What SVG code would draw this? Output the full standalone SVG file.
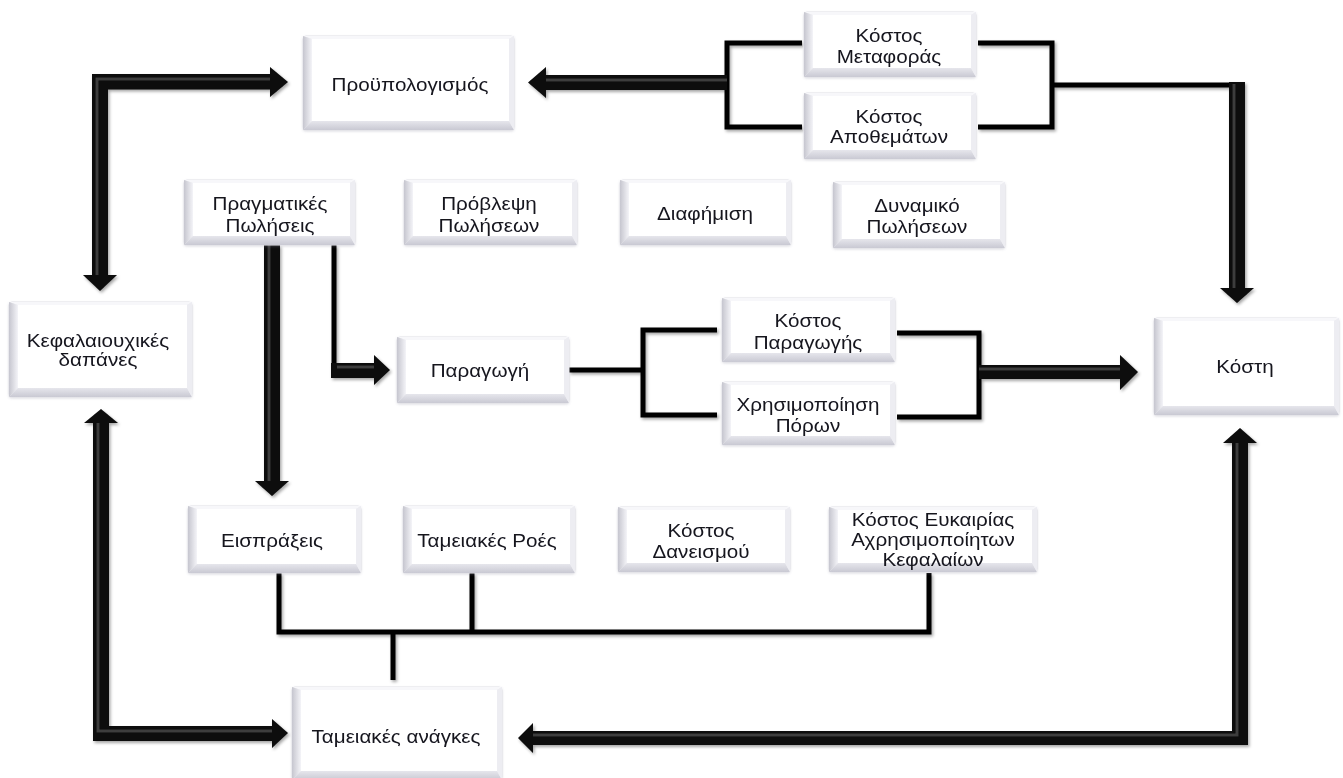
<svg xmlns="http://www.w3.org/2000/svg" width="1343" height="778" viewBox="0 0 1343 778">
<style>
.bo{fill:#ececf1;stroke:#e2e2e8;stroke-width:1}
.bt{fill:#f7f7fa}
.bl{fill:url(#gl)}
.bb{fill:url(#gb)}
.br{fill:#ededf2}
.bi{fill:#ffffff}
.t{font-family:"Liberation Sans",Arial,sans-serif;font-size:17.5px;fill:#15151f;text-anchor:middle;transform-box:fill-box;transform-origin:center;transform:scaleX(1.18)}
.ln{fill:none;stroke:#000;stroke-width:5;stroke-linejoin:miter;stroke-linecap:butt}
.ar{fill:#0a0a0a}
.hl{fill:none;stroke:#3e3e3e;stroke-width:3}
</style>
<defs>
<linearGradient id="gl" x1="0" y1="0" x2="1" y2="0"><stop offset="0" stop-color="#c6c6cf"/><stop offset="1" stop-color="#f4f4f8"/></linearGradient>
<linearGradient id="gb" x1="0" y1="0" x2="0" y2="1"><stop offset="0" stop-color="#e6e6ec"/><stop offset="1" stop-color="#c9c9d3"/></linearGradient>
<filter id="sh" x="-10%" y="-10%" width="120%" height="120%"><feDropShadow dx="1.5" dy="2" stdDeviation="1.5" flood-color="#000" flood-opacity="0.35"/></filter>
<filter id="bs" x="-5%" y="-5%" width="110%" height="115%"><feDropShadow dx="0" dy="1" stdDeviation="1" flood-color="#9090a0" flood-opacity="0.3"/></filter>
</defs>
<rect width="1343" height="778" fill="#ffffff"/>

<g id="connectors" filter="url(#sh)">
  <!-- thin lines / brackets -->
  <path class="ln" d="M802,43 H727 V127 H802"/>
  <path class="ln" d="M978,43 H1052 V127 H978"/>
  <path class="ln" d="M1052,85 H1237"/>
  <path class="ln" d="M334,245 V372"/>
  <path class="ln" d="M569,370 H643"/>
  <path class="ln" d="M717,330 H643 V415 H717"/>
  <path class="ln" d="M897,333 H979 V417 H897"/>
  <path class="ln" d="M279,573 V632 M472,573 V632 M929,573 V632 M276.5,632 H931.5 M393,632 V680"/>
  <!-- thick arrows -->
  <polygon class="ar" points="92,74 270,74 270,67 288,82 270,97 270,89.5 108,89.5 108,275 117,275 100,291 83,275 92,275"/>
  <polyline class="hl" points="97,275 97,79 270,79"/>
  <polygon class="ar" points="101,409 118,423 109,423 109,726 272,726 272,719 288,733 272,748 272,741 93,741 93,423 84,423"/>
  <polyline class="hl" points="98,423 98,731 272,731"/>
  <polygon class="ar" points="727,75 546,75 546,67 528,82.5 546,98 546,90 727,90"/>
  <line class="hl" x1="546" y1="80" x2="727" y2="80"/>
  <polygon class="ar" points="1229,82 1245,82 1245,288 1254,288 1237,303 1220,288 1229,288"/>
  <line class="hl" x1="1234" y1="84" x2="1234" y2="288"/>
  <polygon class="ar" points="264,245 280,245 280,481 289,481 272,496 255,481 264,481"/>
  <line class="hl" x1="269" y1="245" x2="269" y2="481"/>
  <polygon class="ar" points="331,363 374,363 374,355 390,370 374,385 374,378 331,378"/>
  <line class="hl" x1="337" y1="367" x2="374" y2="367"/>
  <polygon class="ar" points="979,365 1120,365 1120,355 1138,372 1120,390 1120,379 979,379"/>
  <line class="hl" x1="979" y1="369" x2="1120" y2="369"/>
  <polygon class="ar" points="1240,428 1257,443 1248,443 1248,745 533,745 533,753 518,738 533,723 533,731 1232,731 1232,443 1223,443"/>
  <polyline class="hl" points="533,735 1237,735 1237,443"/>
</g>

<g id="n1" transform="translate(303,36)" filter="url(#bs)">
  <rect class="bo" width="211" height="94" rx="3"/>
  <polygon class="bt" points="0,0 211,0 206,3 9,3"/>
  <polygon class="bl" points="0,0 9,3 9,85 0,94"/>
  <polygon class="bb" points="0,94 9,85 206,85 211,94"/>
  <polygon class="br" points="211,0 211,94 206,85 206,3"/>
  <rect class="bi" x="9" y="3" width="197" height="82"/>
  <text class="t" x="107" y="55">Προϋπολογισμός</text>
</g>

<g id="n2" transform="translate(804,12)" filter="url(#bs)">
  <rect class="bo" width="172" height="65" rx="3"/>
  <polygon class="bt" points="0,0 172,0 167,3 9,3"/>
  <polygon class="bl" points="0,0 9,3 9,56 0,65"/>
  <polygon class="bb" points="0,65 9,56 167,56 172,65"/>
  <polygon class="br" points="172,0 172,65 167,56 167,3"/>
  <rect class="bi" x="9" y="3" width="158" height="53"/>
  <text class="t" x="85" y="30">Κόστος<tspan x="85" y="51">Μεταφοράς</tspan></text>
</g>

<g id="n3" transform="translate(804,93)" filter="url(#bs)">
  <rect class="bo" width="172" height="66" rx="3"/>
  <polygon class="bt" points="0,0 172,0 167,3 9,3"/>
  <polygon class="bl" points="0,0 9,3 9,57 0,66"/>
  <polygon class="bb" points="0,66 9,57 167,57 172,66"/>
  <polygon class="br" points="172,0 172,66 167,57 167,3"/>
  <rect class="bi" x="9" y="3" width="158" height="54"/>
  <text class="t" x="85" y="30">Κόστος<tspan x="85" y="50">Αποθεμάτων</tspan></text>
</g>

<g id="n4" transform="translate(184,180)" filter="url(#bs)">
  <rect class="bo" width="171" height="65" rx="3"/>
  <polygon class="bt" points="0,0 171,0 166,3 9,3"/>
  <polygon class="bl" points="0,0 9,3 9,56 0,65"/>
  <polygon class="bb" points="0,65 9,56 166,56 171,65"/>
  <polygon class="br" points="171,0 171,65 166,56 166,3"/>
  <rect class="bi" x="9" y="3" width="157" height="53"/>
  <text class="t" x="86" y="30">Πραγματικές<tspan x="86" y="52">Πωλήσεις</tspan></text>
</g>

<g id="n5" transform="translate(404,180)" filter="url(#bs)">
  <rect class="bo" width="173" height="65" rx="3"/>
  <polygon class="bt" points="0,0 173,0 168,3 9,3"/>
  <polygon class="bl" points="0,0 9,3 9,56 0,65"/>
  <polygon class="bb" points="0,65 9,56 168,56 173,65"/>
  <polygon class="br" points="173,0 173,65 168,56 168,3"/>
  <rect class="bi" x="9" y="3" width="159" height="53"/>
  <text class="t" x="85" y="30">Πρόβλεψη<tspan x="85" y="52">Πωλήσεων</tspan></text>
</g>

<g id="n6" transform="translate(620,180)" filter="url(#bs)">
  <rect class="bo" width="171" height="65" rx="3"/>
  <polygon class="bt" points="0,0 171,0 166,3 9,3"/>
  <polygon class="bl" points="0,0 9,3 9,56 0,65"/>
  <polygon class="bb" points="0,65 9,56 166,56 171,65"/>
  <polygon class="br" points="171,0 171,65 166,56 166,3"/>
  <rect class="bi" x="9" y="3" width="157" height="53"/>
  <text class="t" x="85" y="40">Διαφήμιση</text>
</g>

<g id="n7" transform="translate(833,182)" filter="url(#bs)">
  <rect class="bo" width="172" height="66" rx="3"/>
  <polygon class="bt" points="0,0 172,0 167,3 9,3"/>
  <polygon class="bl" points="0,0 9,3 9,57 0,66"/>
  <polygon class="bb" points="0,66 9,57 167,57 172,66"/>
  <polygon class="br" points="172,0 172,66 167,57 167,3"/>
  <rect class="bi" x="9" y="3" width="158" height="54"/>
  <text class="t" x="84" y="30">Δυναμικό<tspan x="84" y="51">Πωλήσεων</tspan></text>
</g>

<g id="n8" transform="translate(9,302)" filter="url(#bs)">
  <rect class="bo" width="183" height="95" rx="3"/>
  <polygon class="bt" points="0,0 183,0 178,3 9,3"/>
  <polygon class="bl" points="0,0 9,3 9,86 0,95"/>
  <polygon class="bb" points="0,95 9,86 178,86 183,95"/>
  <polygon class="br" points="183,0 183,95 178,86 178,3"/>
  <rect class="bi" x="9" y="3" width="169" height="83"/>
  <text class="t" x="89" y="45">Κεφαλαιουχικές<tspan x="89" y="64">δαπάνες</tspan></text>
</g>

<g id="n9" transform="translate(397,337)" filter="url(#bs)">
  <rect class="bo" width="172" height="66" rx="3"/>
  <polygon class="bt" points="0,0 172,0 167,3 9,3"/>
  <polygon class="bl" points="0,0 9,3 9,57 0,66"/>
  <polygon class="bb" points="0,66 9,57 167,57 172,66"/>
  <polygon class="br" points="172,0 172,66 167,57 167,3"/>
  <rect class="bi" x="9" y="3" width="158" height="54"/>
  <text class="t" x="83" y="40">Παραγωγή</text>
</g>

<g id="n10" transform="translate(722,298)" filter="url(#bs)">
  <rect class="bo" width="173" height="64" rx="3"/>
  <polygon class="bt" points="0,0 173,0 168,3 9,3"/>
  <polygon class="bl" points="0,0 9,3 9,55 0,64"/>
  <polygon class="bb" points="0,64 9,55 168,55 173,64"/>
  <polygon class="br" points="173,0 173,64 168,55 168,3"/>
  <rect class="bi" x="9" y="3" width="159" height="52"/>
  <text class="t" x="86" y="29">Κόστος<tspan x="86" y="51">Παραγωγής</tspan></text>
</g>

<g id="n11" transform="translate(722,382)" filter="url(#bs)">
  <rect class="bo" width="173" height="63" rx="3"/>
  <polygon class="bt" points="0,0 173,0 168,3 9,3"/>
  <polygon class="bl" points="0,0 9,3 9,54 0,63"/>
  <polygon class="bb" points="0,63 9,54 168,54 173,63"/>
  <polygon class="br" points="173,0 173,63 168,54 168,3"/>
  <rect class="bi" x="9" y="3" width="159" height="51"/>
  <text class="t" x="86" y="29">Χρησιμοποίηση<tspan x="86" y="50">Πόρων</tspan></text>
</g>

<g id="n12" transform="translate(1154,318)" filter="url(#bs)">
  <rect class="bo" width="185" height="97" rx="3"/>
  <polygon class="bt" points="0,0 185,0 180,3 9,3"/>
  <polygon class="bl" points="0,0 9,3 9,88 0,97"/>
  <polygon class="bb" points="0,97 9,88 180,88 185,97"/>
  <polygon class="br" points="185,0 185,97 180,88 180,3"/>
  <rect class="bi" x="9" y="3" width="171" height="85"/>
  <text class="t" x="91" y="55">Κόστη</text>
</g>

<g id="n13" transform="translate(188,506)" filter="url(#bs)">
  <rect class="bo" width="173" height="67" rx="3"/>
  <polygon class="bt" points="0,0 173,0 168,3 9,3"/>
  <polygon class="bl" points="0,0 9,3 9,58 0,67"/>
  <polygon class="bb" points="0,67 9,58 168,58 173,67"/>
  <polygon class="br" points="173,0 173,67 168,58 168,3"/>
  <rect class="bi" x="9" y="3" width="159" height="55"/>
  <text class="t" x="84" y="41">Εισπράξεις</text>
</g>

<g id="n14" transform="translate(403,506)" filter="url(#bs)">
  <rect class="bo" width="172" height="67" rx="3"/>
  <polygon class="bt" points="0,0 172,0 167,3 9,3"/>
  <polygon class="bl" points="0,0 9,3 9,58 0,67"/>
  <polygon class="bb" points="0,67 9,58 167,58 172,67"/>
  <polygon class="br" points="172,0 172,67 167,58 167,3"/>
  <rect class="bi" x="9" y="3" width="158" height="55"/>
  <text class="t" x="84" y="41">Ταμειακές Ροές</text>
</g>

<g id="n15" transform="translate(618,507)" filter="url(#bs)">
  <rect class="bo" width="172" height="65" rx="3"/>
  <polygon class="bt" points="0,0 172,0 167,3 9,3"/>
  <polygon class="bl" points="0,0 9,3 9,56 0,65"/>
  <polygon class="bb" points="0,65 9,56 167,56 172,65"/>
  <polygon class="br" points="172,0 172,65 167,56 167,3"/>
  <rect class="bi" x="9" y="3" width="158" height="53"/>
  <text class="t" x="83" y="30">Κόστος<tspan x="83" y="51">Δανεισμού</tspan></text>
</g>

<g id="n16" transform="translate(829,507)" filter="url(#bs)">
  <rect class="bo" width="208" height="65" rx="3"/>
  <polygon class="bt" points="0,0 208,0 203,3 9,3"/>
  <polygon class="bl" points="0,0 9,3 9,56 0,65"/>
  <polygon class="bb" points="0,65 9,56 203,56 208,65"/>
  <polygon class="br" points="208,0 208,65 203,56 203,3"/>
  <rect class="bi" x="9" y="3" width="194" height="53"/>
  <text class="t" x="104" y="19">Κόστος Ευκαιρίας<tspan x="104" y="39">Αχρησιμοποίητων</tspan><tspan x="104" y="59">Κεφαλαίων</tspan></text>
</g>

<g id="n17" transform="translate(292,687)" filter="url(#bs)">
  <rect class="bo" width="210" height="93" rx="3"/>
  <polygon class="bt" points="0,0 210,0 205,3 9,3"/>
  <polygon class="bl" points="0,0 9,3 9,84 0,93"/>
  <polygon class="bb" points="0,93 9,84 205,84 210,93"/>
  <polygon class="br" points="210,0 210,93 205,84 205,3"/>
  <rect class="bi" x="9" y="3" width="196" height="81"/>
  <text class="t" x="104" y="56">Ταμειακές ανάγκες</text>
</g>
</svg>
